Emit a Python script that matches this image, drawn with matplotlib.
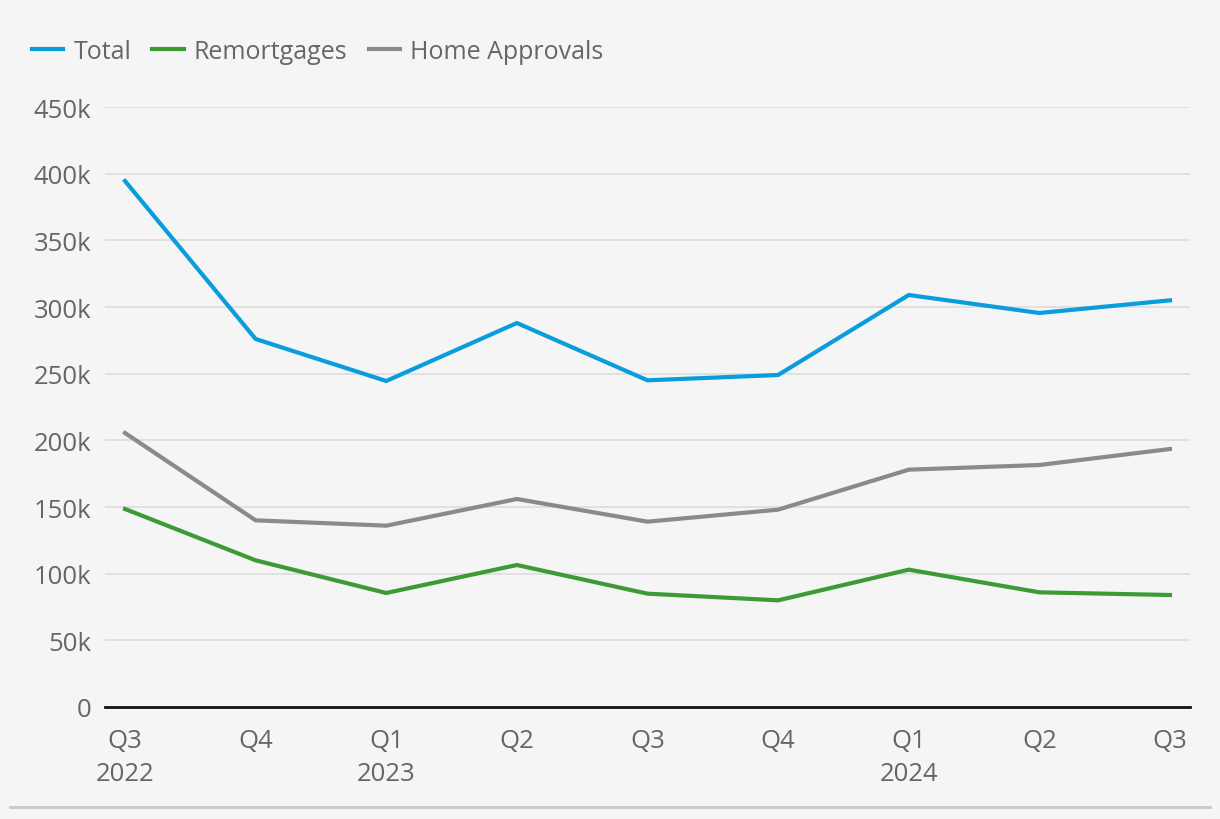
import matplotlib.pyplot as plt
from matplotlib.lines import Line2D

quarters = ["Q3\n2022", "Q4", "Q1\n2023", "Q2", "Q3", "Q4", "Q1\n2024", "Q2", "Q3"]
total = [394.5, 276, 244.5, 288, 245, 249, 309, 295.5, 305]
remortgages = [148.5, 110, 85.5, 106.5, 85, 80, 103, 86, 84]
home_approvals = [205.5, 140, 136, 156, 139, 148, 178, 181.5, 193.5]

bg = "#f5f5f5"
txt = "#666666"
plt.rcParams['font.family'] = ['Open Sans', 'DejaVu Sans']

fig = plt.figure(figsize=(12.2, 8.2), dpi=100, facecolor=bg)
ax = fig.add_axes([105/1220, 1 - 708/820, 1085/1220, 600/820], facecolor=bg)

x = range(len(quarters))
ax.plot(x, total, color="#0a9ddb", lw=3, label="Total")
ax.plot(x, remortgages, color="#3d9a35", lw=3, label="Remortgages")
ax.plot(x, home_approvals, color="#8a8a8a", lw=3, label="Home Approvals")

ax.set_ylim(0, 450)
ax.set_xlim(-20/130.6, 8 + 20/130.6)
ax.set_yticks(range(0, 451, 50))
ax.set_yticklabels(["0"] + [f"{v}k" for v in range(50, 451, 50)])
ax.set_xticks(list(x))
ax.set_xticklabels(quarters)
ax.tick_params(length=0, labelsize=18.5, labelcolor=txt, pad=10)
ax.tick_params(axis='x', pad=15)
for lbl in ax.get_xticklabels():
    lbl.set_linespacing(1.45)
    lbl.set_verticalalignment('top')

ax.grid(axis='y', color="#dcdcdc", lw=1.2)
ax.set_axisbelow(True)
for s in ["top", "right", "left"]:
    ax.spines[s].set_visible(False)
ax.spines["bottom"].set_color("#111111")
ax.spines["bottom"].set_linewidth(2)

fig.legend(loc="upper left", bbox_to_anchor=(22/1220, 1 - 30/820), ncol=3, frameon=False,
           fontsize=18, labelcolor=txt, handlelength=1.25, handletextpad=0.4,
           columnspacing=0.85, borderaxespad=0)

fig.add_artist(Line2D([10/1220, 1210/1220], [1 - 808/820, 1 - 808/820], color="#c8c8c8", lw=2))

fig.savefig("out.png", dpi=100, facecolor=bg)
